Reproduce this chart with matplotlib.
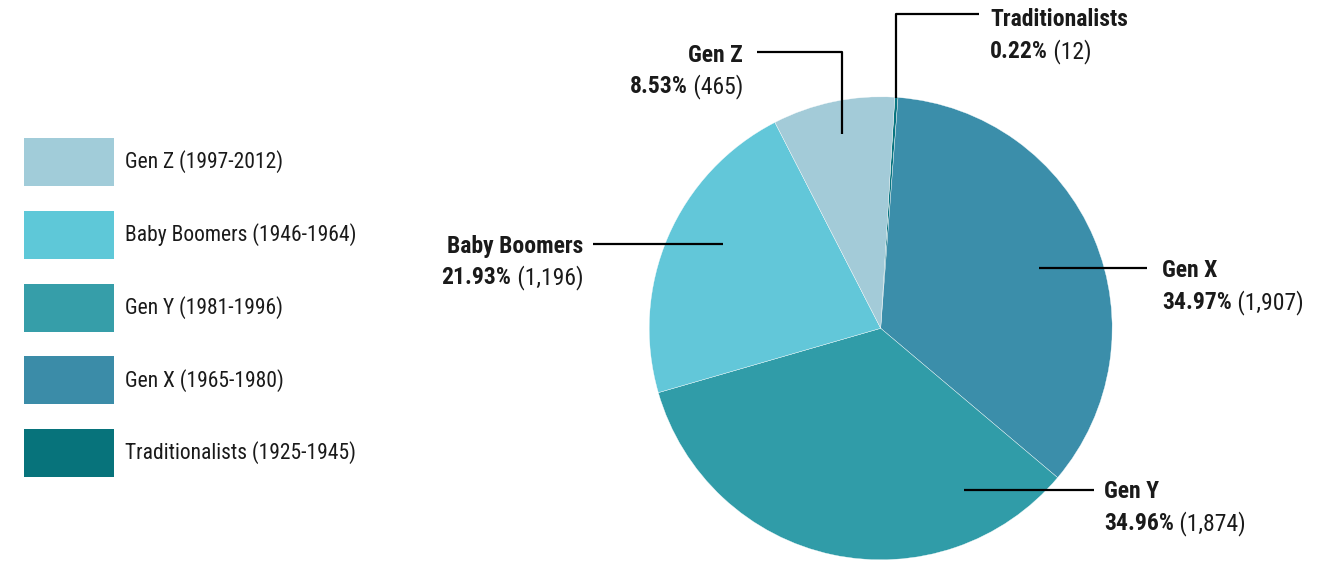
import matplotlib
matplotlib.use("Agg")
import matplotlib.pyplot as plt
from matplotlib.patches import Rectangle

# data (pie order, clockwise from the top)
slice_names = ["Traditionalists", "Gen X", "Gen Y", "Baby Boomers", "Gen Z"]
slice_counts = [12, 1907, 1874, 1196, 465]
slice_pcts = ["0.22%", "34.97%", "34.96%", "21.93%", "8.53%"]
slice_colors = ["#087580", "#3b8eaa", "#309ca8", "#62c7d9", "#a3cbd8"]

# legend order as shown on the left
legend_labels = ["Gen Z (1997-2012)", "Baby Boomers (1946-1964)", "Gen Y (1981-1996)",
                 "Gen X (1965-1980)", "Traditionalists (1925-1945)"]
legend_colors = ["#a1ccd9", "#5ec8d8", "#369ea9", "#3b8ca8", "#07737b"]

plt.rcParams["font.family"] = ["Roboto Condensed", "DejaVu Sans"]
TXT = "#1a1a1a"

W, H = 1330, 564
fig = plt.figure(figsize=(W / 100, H / 100), dpi=100)
ax = fig.add_axes([0, 0, 1, 1])

def py(y):
    # pixel row (from top) -> data y
    return H - y

wedges, _ = ax.pie(slice_counts, colors=slice_colors, startangle=86.5, counterclock=False,
                   center=(880.7, py(328.3)), radius=231.5,
                   wedgeprops=dict(edgecolor="white", linewidth=0.25))
ax.set_xlim(0, W)
ax.set_ylim(0, H)
ax.set_aspect("equal")
ax.axis("off")

# legend boxes
for i, (lab, col) in enumerate(zip(legend_labels, legend_colors)):
    yc = 162 + i * 72.8
    ax.add_patch(Rectangle((24, py(yc + 24)), 90, 48, facecolor=col, edgecolor="none"))
    ax.text(125, py(yc + 6), lab, fontsize=15.5, color=TXT, va="baseline", ha="left")

# callout layout: leader line path (pixels), text anchor x, two baselines, alignment
callouts = {
    "Traditionalists": ([(979, 14), (896, 14), (896, 98)], 990, (26, 58), "left"),
    "Gen Z": ([(757, 52), (842, 52), (842, 134)], 743, (62, 93), "right"),
    "Baby Boomers": ([(593, 244), (723, 244)], 583, (253, 284), "right"),
    "Gen X": ([(1147, 268), (1039, 268)], 1162, (277, 309), "left"),
    "Gen Y": ([(1094, 490), (964, 490)], 1104, (498, 530), "left"),
}

fig.canvas.draw()
renderer = fig.canvas.get_renderer()
fs = 17
bw = "semibold"

for name, cnt, pct in zip(slice_names, slice_counts, slice_pcts):
    path, tx, (b1, b2), align = callouts[name]
    xs = [p[0] for p in path]
    ys = [py(p[1]) for p in path]
    ax.plot(xs, ys, color="black", lw=1.6, solid_capstyle="butt")
    ax.text(tx, py(b1), name, fontsize=fs, fontweight=bw, color=TXT, va="baseline", ha=align)
    count_str = " ({:,})".format(cnt)
    if align == "left":
        t1 = ax.text(tx, py(b2), pct, fontsize=fs, fontweight=bw, color=TXT, va="baseline", ha="left")
        bb = t1.get_window_extent(renderer)
        ax.text(bb.x1, py(b2), count_str, fontsize=fs, color=TXT, va="baseline", ha="left")
    else:
        t2 = ax.text(tx, py(b2), count_str, fontsize=fs, color=TXT, va="baseline", ha="right")
        bb = t2.get_window_extent(renderer)
        ax.text(bb.x0, py(b2), pct, fontsize=fs, fontweight=bw, color=TXT, va="baseline", ha="right")

fig.savefig("out.png", dpi=100, facecolor="white")
